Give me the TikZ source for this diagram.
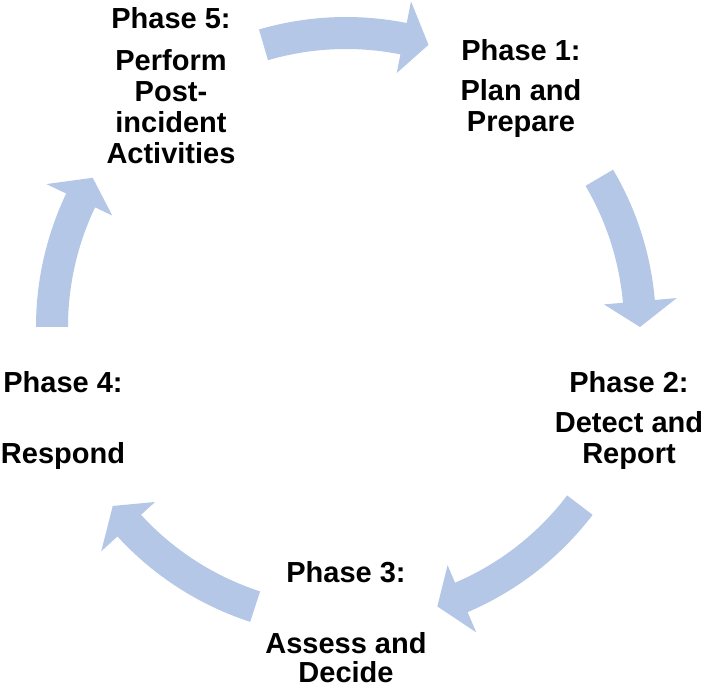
\documentclass[tikz,border=0pt]{standalone}
\usepackage{fontspec}
\setmainfont{Liberation Sans}
\definecolor{arrowblue}{RGB}{180,199,231}

\tikzset{
  phase/.style={align=center, inner sep=0pt, font=\fontsize{29}{31}\selectfont\bfseries},
  cyclearrow/.style={fill=arrowblue}
}

\begin{document}
\begin{tikzpicture}[x=1pt, y=1pt]
        \useasboundingbox (-346,-363) rectangle (358,327);

        \foreach \s/\t [evaluate=\t as \b using \t+5] in {106.3/73.7, 30.5/0, -37.3/-71.9, -108/-142.5, 180/149.5} {
          \fill[cyclearrow] (\s:278) arc[start angle=\s, end angle=\b, radius=278]
            -- (\b:259) -- (\t:294) -- (\b:332) -- (\b:310)
            arc[start angle=\b, end angle=\s, radius=310] -- cycle;
        }

        \node[phase] (plan) at (175,238.7) {Phase 1:\\[9pt]Plan and\\Prepare};
        \node[phase] (detect) at (283,-93.9) {Phase 2:\\[9pt]Detect and\\Report};
        \node[phase] (assess) at (0,-295.5) {Phase 3:\\[40pt]Assess and\\[-2pt]Decide};
        \node[phase] (respond) at (-283,-93.9) {Phase 4:\\[40pt]Respond};
        \node[phase] (post) at (-175,241.7) {Phase 5:\\[11pt]Perform\\Post-\\incident\\Activities};
      \end{tikzpicture}
\end{document}
